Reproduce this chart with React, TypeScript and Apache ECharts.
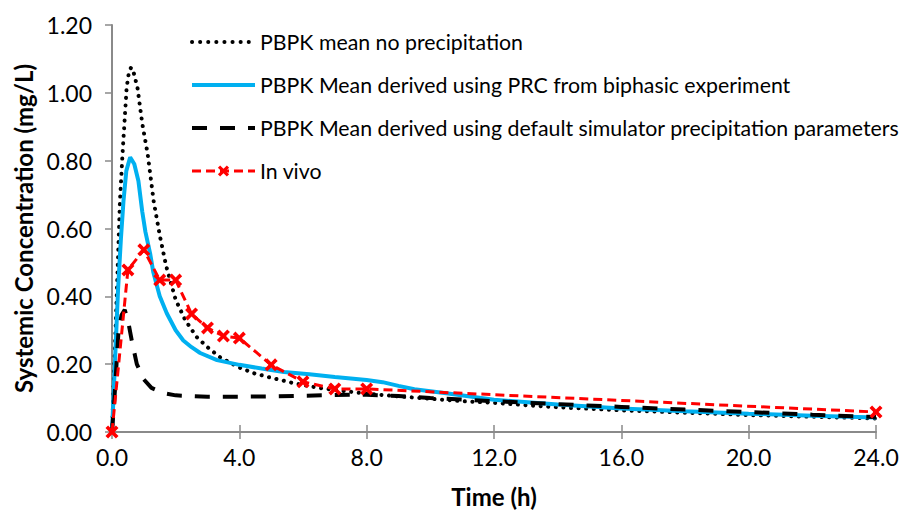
import React, { useEffect, useRef } from "react";
import * as echarts from "echarts";

// ---- Data ----
const noPrecipTime = [0, 0.1, 0.25, 0.33, 0.39, 0.46, 0.53, 0.6, 0.68, 0.8, 0.95, 1.12, 1.31, 1.5, 1.7, 2.0, 2.3, 2.66, 3.0, 3.4, 4.0, 4.5, 5.0, 5.7, 6.5, 7.0, 8.0, 8.5, 9.0, 10, 11, 12, 13, 14, 16, 18, 20, 22, 24];
const noPrecipConc = [0, 0.27, 0.68, 0.82, 0.91, 1.015, 1.06, 1.075, 1.06, 1.015, 0.91, 0.82, 0.68, 0.58, 0.49, 0.39, 0.33, 0.28, 0.25, 0.22, 0.19, 0.172, 0.16, 0.144, 0.13, 0.124, 0.113, 0.109, 0.105, 0.098, 0.091, 0.086, 0.079, 0.073, 0.064, 0.057, 0.05, 0.045, 0.04];

const prcTime = [0, 0.1, 0.19, 0.28, 0.36, 0.45, 0.57, 0.7, 0.83, 0.95, 1.05, 1.2, 1.3, 1.5, 1.72, 2.0, 2.24, 2.5, 2.77, 3.3, 4.0, 4.7, 5.4, 6.2, 7.0, 8.0, 8.5, 9.0, 9.5, 10.5, 12, 14, 16, 18, 20, 22, 24];
const prcConc = [0, 0.22, 0.42, 0.57, 0.68, 0.77, 0.81, 0.79, 0.74, 0.65, 0.59, 0.525, 0.47, 0.4, 0.35, 0.3, 0.27, 0.25, 0.233, 0.212, 0.198, 0.187, 0.177, 0.17, 0.162, 0.153, 0.147, 0.136, 0.126, 0.114, 0.095, 0.081, 0.069, 0.061, 0.054, 0.048, 0.043];

const defaultTime = [0, 0.07, 0.2, 0.3, 0.4, 0.5, 0.62, 0.78, 1.0, 1.24, 1.6, 2, 3, 4, 5, 6, 7, 8, 9, 10, 12, 14, 16, 18, 20, 22, 24];
const defaultConc = [0, 0.09, 0.29, 0.345, 0.36, 0.33, 0.27, 0.2, 0.155, 0.13, 0.115, 0.108, 0.104, 0.104, 0.105, 0.107, 0.109, 0.11, 0.106, 0.1, 0.091, 0.082, 0.074, 0.066, 0.059, 0.051, 0.044];

const inVivoTime = [0, 0.5, 1, 1.5, 2, 2.5, 3, 3.5, 4, 5, 6, 7, 8, 24];
const inVivoConc = [0, 0.478, 0.537, 0.448, 0.448, 0.348, 0.307, 0.283, 0.277, 0.198, 0.148, 0.127, 0.127, 0.059];

const seriesNames = [
  "PBPK mean no precipitation",
  "PBPK Mean derived using PRC from biphasic experiment",
  "PBPK Mean derived using default simulator precipitation parameters",
  "In vivo",
];

const pairs = (t: number[], c: number[]) => t.map((x, i) => [x, c[i]]);

const FONT = "Lato";
const AXIS_COLOR = "#8a8a8a";
const X_PATH = "path://M2,0 L5,3 L8,0 L10,2 L7,5 L10,8 L8,10 L5,7 L2,10 L0,8 L3,5 L0,2 Z";

export default function App() {
  const ref = useRef<HTMLDivElement>(null);
  useEffect(() => {
    document.body.style.margin = "0";
    if (!ref.current) return;
    const chart = echarts.init(ref.current, undefined, { renderer: "svg" });
    chart.setOption({
      animation: false,
      backgroundColor: "#ffffff",
      textStyle: { fontFamily: FONT },
      grid: { left: 112, right: 40, top: 25, bottom: 81 },
      legend: {
        orient: "vertical",
        left: 190,
        top: 31,
        padding: 0,
        itemWidth: 63,
        itemHeight: 14,
        itemGap: 21,
        textStyle: { fontFamily: FONT, fontSize: 21.3, color: "#000", lineHeight: 22 },
        data: [
          { name: seriesNames[0], itemStyle: { opacity: 0 }, lineStyle: { width: 4, cap: "round", type: [0.1, 8] } },
          { name: seriesNames[1], itemStyle: { opacity: 0 }, lineStyle: { width: 4 } },
          { name: seriesNames[2], itemStyle: { opacity: 0 }, lineStyle: { width: 4, type: [15, 13] } },
          { name: seriesNames[3], lineStyle: { width: 3, type: [9, 5] } },
        ],
      },
      xAxis: [
        {
          type: "value",
          min: 0,
          max: 24,
          interval: 4,
          name: "Time (h)",
          nameLocation: "middle",
          nameGap: 52,
          nameTextStyle: { fontFamily: FONT, fontSize: 24, fontWeight: "bold", color: "#000" },
          axisLine: { show: true, lineStyle: { color: AXIS_COLOR, width: 2 } },
          axisTick: { show: true, length: 7, lineStyle: { color: AXIS_COLOR, width: 1.5 } },
          axisLabel: {
            fontFamily: FONT,
            fontSize: 23,
            color: "#000",
            margin: 13,
            formatter: (v: number) => v.toFixed(1),
          },
          splitLine: { show: false },
        },
        {
          type: "value",
          min: 0,
          max: 24,
          interval: 4,
          position: "bottom",
          axisLine: { show: false },
          axisTick: { show: true, inside: true, length: 7, lineStyle: { color: AXIS_COLOR, width: 1.5 } },
          axisLabel: { show: false },
          splitLine: { show: false },
        },
      ],
      yAxis: {
        type: "value",
        min: 0,
        max: 1.2,
        interval: 0.2,
        name: "Systemic Concentration (mg/L)",
        nameLocation: "middle",
        nameGap: 75,
        nameTextStyle: { fontFamily: FONT, fontSize: 24, fontWeight: "bold", color: "#000" },
        axisLine: { show: true, lineStyle: { color: AXIS_COLOR, width: 2 } },
        axisTick: { show: true, length: 7, lineStyle: { color: AXIS_COLOR, width: 1.5 } },
        axisLabel: {
          fontFamily: FONT,
          fontSize: 23,
          color: "#000",
          margin: 20,
          formatter: (v: number) => v.toFixed(2),
        },
        splitLine: { show: false },
      },
      series: [
        {
          name: seriesNames[0],
          type: "line",
          data: pairs(noPrecipTime, noPrecipConc),
          symbol: "none",
          lineStyle: { color: "#000", width: 4, type: [0.1, 7.5], cap: "round" },
          itemStyle: { color: "#000" },
        },
        {
          name: seriesNames[1],
          type: "line",
          data: pairs(prcTime, prcConc),
          symbol: "none",
          lineStyle: { color: "#00B0F0", width: 4 },
          itemStyle: { color: "#00B0F0" },
        },
        {
          name: seriesNames[2],
          type: "line",
          data: pairs(defaultTime, defaultConc),
          symbol: "none",
          lineStyle: { color: "#000", width: 4, type: [15, 13] },
          itemStyle: { color: "#000" },
        },
        {
          name: seriesNames[3],
          type: "line",
          data: pairs(inVivoTime, inVivoConc),
          symbol: X_PATH,
          symbolSize: 13,
          showSymbol: true,
          lineStyle: { color: "#FF0000", width: 3, type: [9, 5] },
          itemStyle: { color: "#FF0000" },
        },
      ],
    });
    return () => chart.dispose();
  }, []);
  return <div ref={ref} style={{ width: 916, height: 513 }} />;
}
